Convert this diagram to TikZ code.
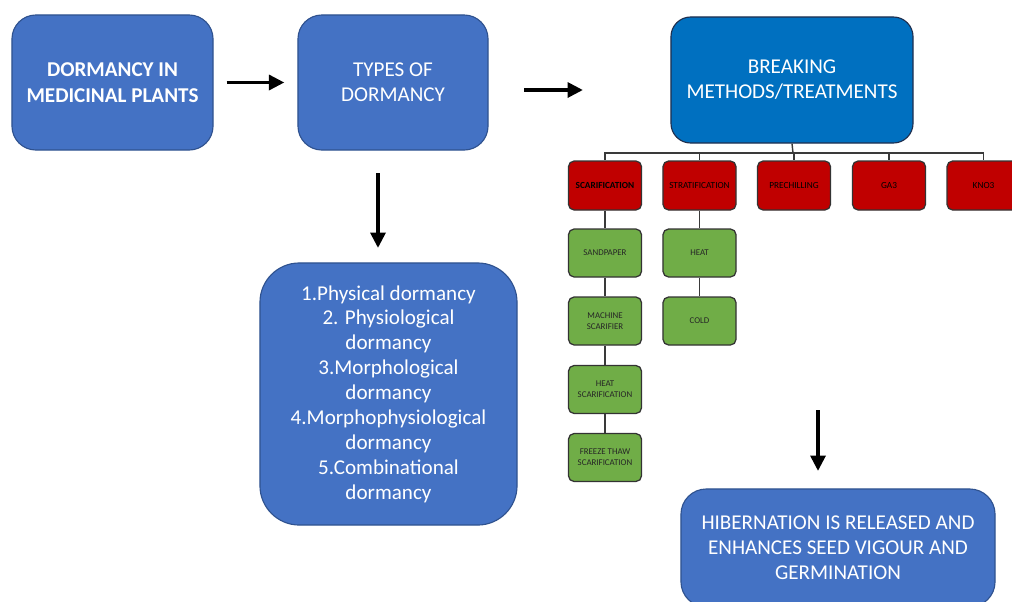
\documentclass[tikz,border=0pt]{standalone}
\usepackage{fontspec}
\setmainfont{Carlito}
\usetikzlibrary{arrows.meta}
\definecolor{bluef}{HTML}{4472C4}
\definecolor{bluebd}{HTML}{2F528F}
\definecolor{darkbf}{HTML}{0070C0}
\definecolor{darkbd}{HTML}{1F2F4F}
\definecolor{redf}{HTML}{C00000}
\definecolor{greenf}{HTML}{70AD47}
\definecolor{treec}{HTML}{3A3A3A}
\tikzset{
  bigbox/.style={draw=bluebd, line width=0.8pt, fill=bluef, text=white, align=center,
    inner sep=0pt, font=\fontsize{15}{17.7}\selectfont},
  redbox/.style={draw=black!80, line width=0.9pt, fill=redf, text=black, align=center,
    rounded corners=4pt, minimum width=1.825cm, minimum height=1.225cm, inner sep=0pt,
    font=\fontsize{6.6}{7.6}\selectfont},
  greenbox/.style={draw=black!80, line width=0.9pt, fill=greenf, text=black!85, align=center,
    rounded corners=4pt, minimum width=1.825cm, minimum height=1.2cm, inner sep=0pt,
    font=\fontsize{6.3}{7.6}\selectfont},
  fat/.style={line width=2.8pt, -{Triangle[length=11pt,width=10.5pt]}},
  tree/.style={draw=treec, line width=1pt},
}
\begin{document}
\begin{tikzpicture}[x=0.025cm,y=-0.025cm]
\clip (0,0) rectangle (1012,601);
\fill[white] (0,0) rectangle (1012,601);

% main boxes
\node[bigbox, rounded corners=17pt, minimum width=5.025cm, minimum height=3.375cm,
  font=\fontsize{15}{18.4}\selectfont\bfseries] (b1) at (112.5,82.5) {DORMANCY IN\\MEDICINAL PLANTS};
\node[bigbox, rounded corners=17pt, minimum width=4.75cm, minimum height=3.375cm] (b2) at (393,82.5) {TYPES OF\\DORMANCY};
\node[bigbox, draw=darkbd, fill=darkbf, rounded corners=14pt, minimum width=6.05cm, minimum height=3.15cm] (b3) at (792,80) {BREAKING\\METHODS/TREATMENTS};
\node[bigbox, rounded corners=28pt, minimum width=6.425cm, minimum height=6.55cm] (b4) at (388.5,394)
  {1.Physical dormancy\\2. Physiological\\dormancy\\3.Morphological\\dormancy\\4.Morphophysiological\\dormancy\\5.Combinational\\dormancy};
\node[bigbox, rounded corners=18pt, minimum width=7.85cm, minimum height=2.95cm] (b5) at (838,548)
  {HIBERNATION IS RELEASED AND\\ENHANCES SEED VIGOUR AND\\GERMINATION};

% arrows
\coordinate (a2s) at (524,90);
\coordinate (a2e) at (583,90);
\coordinate (a3s) at (378,173);
\coordinate (a3e) at (378,248);
\coordinate (a4s) at (818,410);
\coordinate (a4e) at (818,471);
\draw[fat, shorten <=13*0.025cm, shorten >=13*0.025cm] (b1.east) -- (b2.west);
\draw[fat] (a2s) -- (a2e);
\draw[fat] (a3s) -- (a3e);
\draw[fat] (a4s) -- (a4e);

% red boxes
\node[redbox, font=\fontsize{6.6}{7.6}\selectfont\bfseries] (r1) at (605,185.5) {SCARIFICATION};
\node[redbox] (r2) at (699.5,185.5) {STRATIFICATION};
\node[redbox] (r3) at (794,185.5) {PRECHILLING};
\node[redbox] (r4) at (889,185.5) {GA3};
\node[redbox] (r5) at (983.5,185.5) {KNO3};

% green boxes
\node[greenbox] (g1) at (605,253) {SANDPAPER};
\node[greenbox] (g2) at (605,321) {MACHINE\\SCARIFIER};
\node[greenbox] (g3) at (605,389.5) {HEAT\\SCARIFICATION};
\node[greenbox] (g4) at (605,457.5) {FREEZE THAW\\SCARIFICATION};
\node[greenbox] (h1) at (699.5,253) {HEAT};
\node[greenbox] (h2) at (699.5,321) {COLD};

% tree connectors
\coordinate (hub) at (793,153);
\draw[tree] (b3.south) -- (hub);
\foreach \r in {r1,r2,r3,r4,r5} \draw[tree] (hub) -| (\r.north);
\draw[tree] (r1.south) -- (g1.north);
\draw[tree] (g1.south) -- (g2.north);
\draw[tree] (g2.south) -- (g3.north);
\draw[tree] (g3.south) -- (g4.north);
\draw[tree] (r2.south) -- (h1.north);
\draw[tree] (h1.south) -- (h2.north);
\end{tikzpicture}
\end{document}
